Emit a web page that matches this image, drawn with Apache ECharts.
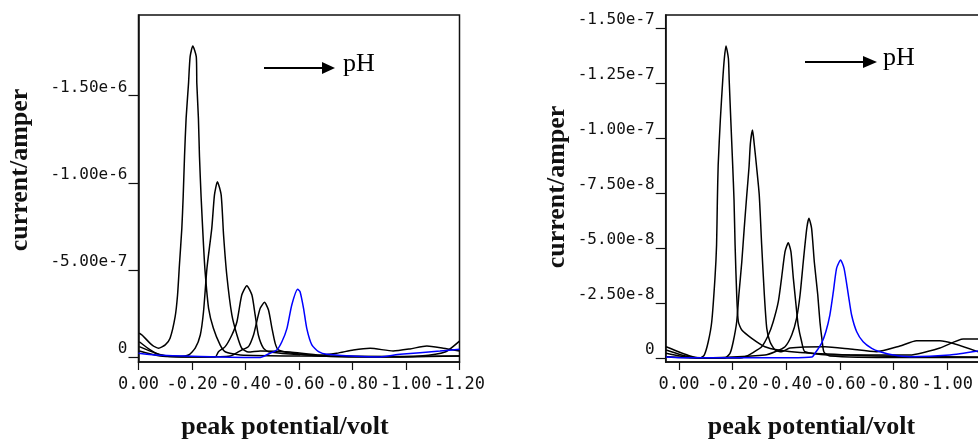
<!DOCTYPE html>
<html>
<head>
<meta charset="utf-8">
<script src="https://cdn.jsdelivr.net/npm/echarts@6/dist/echarts.min.js"></script>
<style>html,body{margin:0;padding:0;background:#fff;}#c{width:978px;height:439px;}</style>
</head>
<body>
<div id="c"></div>
<script>
// ---- tick values ----
const xTicksLeft = [0, -0.2, -0.4, -0.6, -0.8, -1.0, -1.2];
const xTicksRight = [0, -0.2, -0.4, -0.6, -0.8, -1.0];
const yTicksLeft = [0, -5e-7, -1e-6, -1.5e-6];
const yTicksRight = [0, -2.5e-8, -5e-8, -7.5e-8, -1e-7, -1.25e-7, -1.5e-7];

// ---- left panel curves: [peak potential (V), current (A)] ----
const left1 = [[-0.003,-0.139e-6],[-0.013,-0.128e-6],[-0.050,-0.071e-6],[-0.075,-0.052e-6],[-0.100,-0.071e-6],[-0.118,-0.109e-6],[-0.137,-0.233e-6],[-0.146,-0.357e-6],[-0.153,-0.529e-6],[-0.162,-0.740e-6],[-0.167,-0.921e-6],[-0.172,-1.150e-6],[-0.178,-1.370e-6],[-0.187,-1.571e-6],[-0.193,-1.724e-6],[-0.203,-1.785e-6],[-0.216,-1.724e-6],[-0.218,-1.571e-6],[-0.224,-1.370e-6],[-0.228,-1.150e-6],[-0.234,-0.921e-6],[-0.243,-0.644e-6],[-0.249,-0.491e-6],[-0.262,-0.281e-6],[-0.280,-0.166e-6],[-0.305,-0.071e-6],[-0.324,-0.032e-6],[-0.380,-0.013e-6],[-0.604,-0.007e-6],[-0.978,-0.005e-6],[-1.2,-0.007e-6]];
const left2 = [[-0.003,-0.089e-6],[-0.044,-0.042e-6],[-0.081,-0.013e-6],[-0.156,-0.005e-6],[-0.187,-0.013e-6],[-0.212,-0.052e-6],[-0.231,-0.128e-6],[-0.243,-0.261e-6],[-0.256,-0.512e-6],[-0.274,-0.741e-6],[-0.284,-0.931e-6],[-0.295,-1.007e-6],[-0.309,-0.931e-6],[-0.318,-0.701e-6],[-0.330,-0.472e-6],[-0.349,-0.243e-6],[-0.368,-0.128e-6],[-0.386,-0.052e-6],[-0.411,-0.030e-6],[-0.455,-0.036e-6],[-0.567,-0.030e-6],[-0.679,-0.013e-6],[-0.741,-0.023e-6],[-0.803,-0.042e-6],[-0.866,-0.052e-6],[-0.952,-0.036e-6],[-1.015,-0.048e-6],[-1.078,-0.065e-6],[-1.139,-0.052e-6],[-1.2,-0.036e-6]];
const left3 = [[-0.003,-0.061e-6],[-0.062,-0.025e-6],[-0.118,-0.005e-6],[-0.287,-0.002e-6],[-0.299,-0.032e-6],[-0.324,-0.061e-6],[-0.349,-0.128e-6],[-0.368,-0.204e-6],[-0.386,-0.357e-6],[-0.405,-0.411e-6],[-0.424,-0.357e-6],[-0.436,-0.243e-6],[-0.448,-0.128e-6],[-0.467,-0.052e-6],[-0.486,-0.032e-6],[-0.567,-0.019e-6],[-0.716,-0.007e-6],[-0.978,-0.002e-6],[-1.2,-0.007e-6]];
const left4 = [[-0.003,-0.036e-6],[-0.081,-0.007e-6],[-0.231,-0.002e-6],[-0.343,-0.007e-6],[-0.386,-0.042e-6],[-0.411,-0.061e-6],[-0.430,-0.128e-6],[-0.442,-0.204e-6],[-0.455,-0.281e-6],[-0.471,-0.315e-6],[-0.486,-0.271e-6],[-0.499,-0.166e-6],[-0.511,-0.080e-6],[-0.523,-0.042e-6],[-0.567,-0.025e-6],[-0.716,-0.005e-6],[-0.903,-0.002e-6],[-1.053,-0.007e-6],[-1.146,-0.030e-6],[-1.2,-0.093e-6]];
const left5 = [[0,-0.023e-6],[-0.062,-0.013e-6],[-0.231,-0.005e-6],[-0.455,0.001e-6],[-0.486,-0.019e-6],[-0.517,-0.042e-6],[-0.536,-0.089e-6],[-0.555,-0.166e-6],[-0.573,-0.300e-6],[-0.595,-0.390e-6],[-0.604,-0.376e-6],[-0.617,-0.281e-6],[-0.629,-0.166e-6],[-0.648,-0.071e-6],[-0.673,-0.032e-6],[-0.704,-0.017e-6],[-0.903,-0.002e-6],[-0.978,-0.017e-6],[-1.127,-0.036e-6],[-1.2,-0.046e-6]];

// ---- right panel curves: [peak potential (V), current (A)] ----
const right1 = [[0.048,-0.514e-8],[-0.041,-0.091e-8],[-0.078,0],[-0.094,-0.136e-8],[-0.109,-0.741e-8],[-0.122,-1.650e-8],[-0.134,-3.623e-8],[-0.140,-5.136e-8],[-0.143,-7.182e-8],[-0.146,-8.773e-8],[-0.154,-10.818e-8],[-0.163,-12.636e-8],[-0.169,-13.623e-8],[-0.175,-14.182e-8],[-0.184,-13.623e-8],[-0.187,-12.636e-8],[-0.193,-10.818e-8],[-0.200,-8.773e-8],[-0.205,-7.182e-8],[-0.209,-5.136e-8],[-0.215,-2.864e-8],[-0.221,-1.650e-8],[-0.234,-1.273e-8],[-0.271,-0.895e-8],[-0.320,-0.514e-8],[-0.370,-0.364e-8],[-0.451,-0.250e-8],[-0.637,-0.136e-8],[-0.823,-0.068e-8],[-1.114,-0.045e-8]];
const right2 = [[0.048,-0.364e-8],[-0.041,-0.045e-8],[-0.153,0],[-0.171,0],[-0.190,-0.214e-8],[-0.202,-0.741e-8],[-0.215,-1.650e-8],[-0.223,-2.864e-8],[-0.234,-4.377e-8],[-0.243,-5.895e-8],[-0.252,-7.332e-8],[-0.261,-8.695e-8],[-0.266,-9.759e-8],[-0.274,-10.364e-8],[-0.280,-9.759e-8],[-0.289,-8.695e-8],[-0.299,-7.409e-8],[-0.308,-5.136e-8],[-0.318,-2.864e-8],[-0.327,-1.350e-8],[-0.339,-0.741e-8],[-0.358,-0.364e-8],[-0.382,-0.286e-8],[-0.413,-0.455e-8],[-0.544,-0.514e-8],[-0.637,-0.409e-8],[-0.736,-0.286e-8],[-0.823,-0.545e-8],[-0.885,-0.786e-8],[-0.972,-0.786e-8],[-1.114,-0.286e-8]];
const right3 = [[0.048,-0.214e-8],[-0.041,-0.023e-8],[-0.227,0],[-0.246,-0.059e-8],[-0.271,-0.214e-8],[-0.308,-0.514e-8],[-0.333,-1.045e-8],[-0.351,-1.650e-8],[-0.370,-2.559e-8],[-0.382,-3.623e-8],[-0.395,-4.832e-8],[-0.407,-5.241e-8],[-0.417,-4.832e-8],[-0.426,-3.623e-8],[-0.436,-2.409e-8],[-0.444,-1.500e-8],[-0.457,-0.741e-8],[-0.469,-0.286e-8],[-0.562,-0.136e-8],[-0.860,-0.136e-8],[-0.972,-0.455e-8],[-1.059,-0.864e-8],[-1.114,-0.864e-8]];
const right4 = [[0.048,-0.059e-8],[-0.078,0],[-0.320,-0.136e-8],[-0.358,-0.286e-8],[-0.395,-0.514e-8],[-0.420,-1.045e-8],[-0.438,-1.805e-8],[-0.451,-2.864e-8],[-0.463,-4.377e-8],[-0.476,-5.895e-8],[-0.484,-6.350e-8],[-0.494,-5.895e-8],[-0.504,-4.377e-8],[-0.517,-2.864e-8],[-0.525,-1.650e-8],[-0.533,-0.818e-8],[-0.540,-0.273e-8],[-0.562,-0.091e-8],[-0.823,-0.023e-8],[-1.114,-0.023e-8]];
const right5 = [[0.048,-0.045e-8],[-0.004,-0.014e-8],[-0.413,-0.014e-8],[-0.495,-0.045e-8],[-0.510,-0.273e-8],[-0.531,-0.668e-8],[-0.547,-1.195e-8],[-0.562,-1.955e-8],[-0.575,-3.014e-8],[-0.587,-4.077e-8],[-0.602,-4.455e-8],[-0.615,-4.077e-8],[-0.631,-2.864e-8],[-0.643,-1.955e-8],[-0.662,-1.195e-8],[-0.686,-0.741e-8],[-0.718,-0.441e-8],[-0.749,-0.286e-8],[-0.798,-0.136e-8],[-0.860,-0.059e-8],[-1.009,-0.136e-8],[-1.114,-0.318e-8]];

const chart = echarts.init(document.getElementById('c'));
const monoFont = '"DejaVu Sans Mono", monospace';
const serif = '"Liberation Serif", "Times New Roman", serif';

function xAxisCfg(gridIndex, min, max, ticks) {
  return {
    type: 'value', gridIndex, inverse: true, min, max,
    axisLine: { show: true, onZero: false, lineStyle: { color: '#111', width: 1.5 } },
    axisTick: { show: true, length: 8, customValues: ticks, lineStyle: { color: '#111', width: 1.2 } },
    axisLabel: { customValues: ticks, margin: 14, color: '#111', fontFamily: monoFont, fontSize: 17,
      formatter: v => (Math.abs(v) < 1e-12 ? '0.00' : v.toFixed(2)) },
    splitLine: { show: false }
  };
}
function yAxisCfg(gridIndex, min, max, ticks) {
  return {
    type: 'value', gridIndex, inverse: true, min, max,
    axisLine: { show: true, onZero: false, lineStyle: { color: '#111', width: 1.5 } },
    axisTick: { show: true, length: 10, customValues: ticks, lineStyle: { color: '#111', width: 1.2 } },
    axisLabel: { customValues: ticks, margin: 11, color: '#111', fontFamily: monoFont, fontSize: 16,
      verticalAlign: 'bottom', lineHeight: 16,
      formatter: v => (Math.abs(v) < 1e-15 ? '0' : v.toExponential(2)) },
    splitLine: { show: false }
  };
}
function line(data, xi, color) {
  return { type: 'line', xAxisIndex: xi, yAxisIndex: xi, data, showSymbol: false, smooth: 0.2,
    lineStyle: { color, width: 1.5 }, silent: true, animation: false };
}

chart.setOption({
  animation: false,
  backgroundColor: '#fff',
  grid: [
    { left: 138.5, top: 15, width: 321, height: 347, show: true, borderColor: '#111', borderWidth: 1.5, outerBoundsMode: 'none', containLabel: false },
    { left: 665.7, top: 15, width: 322, height: 347, show: true, borderColor: '#111', borderWidth: 1.5, outerBoundsMode: 'none', containLabel: false }
  ],
  xAxis: [ xAxisCfg(0, -1.2, 0, xTicksLeft), xAxisCfg(1, -1.15, 0.0495, xTicksRight) ],
  yAxis: [ yAxisCfg(0, -1.963e-6, 2.7e-8, yTicksLeft), yAxisCfg(1, -1.559e-7, 1.8e-9, yTicksRight) ],
  series: [
    line(left1, 0, '#000'), line(left2, 0, '#000'), line(left3, 0, '#000'), line(left4, 0, '#000'), line(left5, 0, '#0000ff'),
    line(right1, 1, '#000'), line(right2, 1, '#000'), line(right3, 1, '#000'), line(right4, 1, '#000'), line(right5, 1, '#0000ff')
  ],
  graphic: [
    { type: 'text', x: 20.5, y: 170, rotation: Math.PI / 2,
      style: { text: 'current/amper', font: 'bold 26px ' + serif, fill: '#111', align: 'center', verticalAlign: 'middle', textAlign: 'center', textVerticalAlign: 'middle' } },
    { type: 'text', x: 557.5, y: 187, rotation: Math.PI / 2,
      style: { text: 'current/amper', font: 'bold 26px ' + serif, fill: '#111', align: 'center', verticalAlign: 'middle', textAlign: 'center', textVerticalAlign: 'middle' } },
    { type: 'text', x: 285, y: 427,
      style: { text: 'peak potential/volt', font: 'bold 26px ' + serif, fill: '#111', align: 'center', verticalAlign: 'middle', textAlign: 'center', textVerticalAlign: 'middle' } },
    { type: 'text', x: 811.5, y: 427,
      style: { text: 'peak potential/volt', font: 'bold 26px ' + serif, fill: '#111', align: 'center', verticalAlign: 'middle', textAlign: 'center', textVerticalAlign: 'middle' } },
    { type: 'line', shape: { x1: 264, y1: 68, x2: 324, y2: 68 }, style: { stroke: '#000', lineWidth: 2 } },
    { type: 'polygon', shape: { points: [[322, 62], [335, 68], [322, 74]] }, style: { fill: '#000' } },
    { type: 'text', x: 343, y: 64, style: { text: 'pH', font: '26px ' + serif, fill: '#000', align: 'left', verticalAlign: 'middle', textAlign: 'left', textVerticalAlign: 'middle' } },
    { type: 'line', shape: { x1: 805, y1: 62, x2: 865, y2: 62 }, style: { stroke: '#000', lineWidth: 2 } },
    { type: 'polygon', shape: { points: [[863, 56], [877, 62], [863, 68]] }, style: { fill: '#000' } },
    { type: 'text', x: 883, y: 58, style: { text: 'pH', font: '26px ' + serif, fill: '#000', align: 'left', verticalAlign: 'middle', textAlign: 'left', textVerticalAlign: 'middle' } }
  ]
});
</script>
</body>
</html>
